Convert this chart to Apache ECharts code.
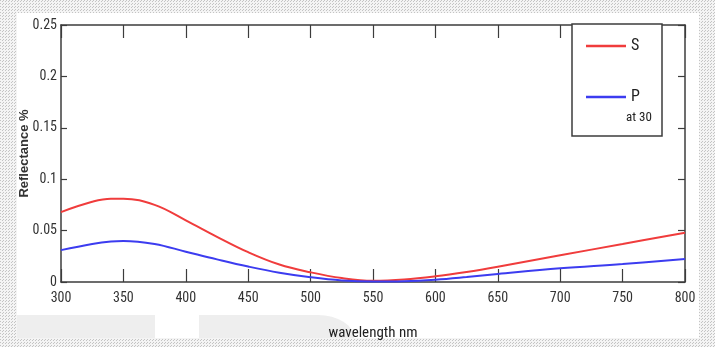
<!DOCTYPE html>
<html>
<head>
<meta charset="utf-8">
<script src="https://cdn.jsdelivr.net/npm/echarts@6/dist/echarts.min.js"></script>
<style>
  html, body { margin: 0; padding: 0; background: #ffffff; }
  #chart { width: 715px; height: 347px; }
</style>
</head>
<body>
<div id="chart"></div>
<script>
// Wavelengths sampled (nm)
const wavelengths = [300, 325, 340, 350, 375, 400, 425, 450, 475, 500, 525, 550, 575, 600, 625, 650, 700, 750, 800];
// Reflectance for S polarisation
const reflectanceS = [0.068, 0.078, 0.081, 0.081, 0.075, 0.060, 0.044, 0.029, 0.017, 0.0094, 0.0038, 0.0012, 0.0024, 0.0055, 0.0098, 0.0149, 0.026, 0.037, 0.048];
// Reflectance for P polarisation
const reflectanceP = [0.031, 0.037, 0.0395, 0.040, 0.037, 0.0295, 0.022, 0.015, 0.009, 0.0046, 0.0015, 0.0004, 0.0007, 0.0022, 0.0048, 0.0078, 0.0133, 0.0175, 0.0224];
const seriesNames = ['S', 'P'];
const xTicks = { min: 300, max: 800, interval: 50 };
const yTicks = { min: 0, max: 0.25, interval: 0.05 };

const pairs = (ys) => wavelengths.map((w, i) => [w, ys[i]]);

// small dotted tile used for the outer frame
const tile = document.createElement('canvas');
tile.width = 3; tile.height = 3;
const tctx = tile.getContext('2d');
tctx.fillStyle = '#f4f4f4'; tctx.fillRect(0, 0, 3, 3);
tctx.fillStyle = '#c4c4c4'; tctx.fillRect(0, 0, 1, 1); tctx.fillRect(2, 1, 1, 1);
const dots = { image: tile, repeat: 'repeat' };

const FONT = '"Roboto Condensed", "Open Sans Condensed", "Liberation Sans", sans-serif';
const AX = '#3c3c3c';

// rounded right end of the pale lower band
const bandPoints = [[199, 315], [318, 315]];
for (let k = 1; k <= 8; k++) {
  const t = k / 8;
  bandPoints.push([318 + 36 * Math.sin(t * Math.PI / 2), 315 + 23 * (1 - Math.cos(t * Math.PI / 2))]);
}
bandPoints.push([199, 338]);

const chart = echarts.init(document.getElementById('chart'), null, { renderer: 'canvas' });

chart.setOption({
  backgroundColor: '#ffffff',
  animation: false,
  grid: { left: 61, top: 25, right: 30, bottom: 65, containLabel: false, outerBoundsMode: 'none' },
  xAxis: [{
    type: 'value', min: xTicks.min, max: xTicks.max, interval: xTicks.interval,
    name: 'wavelength nm', nameLocation: 'middle', nameGap: 44, nameMoveOverlap: false,
    nameTextStyle: { fontFamily: FONT, fontSize: 15, color: '#222' },
    axisLine: { show: true, onZero: false, lineStyle: { color: AX, width: 1.5 } },
    axisTick: { show: true, inside: true, length: 13, lineStyle: { color: AX, width: 1.2 } },
    axisLabel: { fontFamily: FONT, fontSize: 14, color: '#333', margin: 9 },
    splitLine: { show: false }
  }, {
    type: 'value', position: 'top', min: xTicks.min, max: xTicks.max, interval: xTicks.interval,
    axisLine: { show: true, onZero: false, lineStyle: { color: AX, width: 1.5 } },
    axisTick: { show: true, inside: true, length: 13, lineStyle: { color: AX, width: 1.2 } },
    axisLabel: { show: false }, splitLine: { show: false }
  }],
  yAxis: [{
    type: 'value', min: yTicks.min, max: yTicks.max, interval: yTicks.interval,
    name: 'Reflectance %', nameLocation: 'middle', nameGap: 30, nameRotate: 90, nameMoveOverlap: false,
    nameTextStyle: { fontFamily: '"Liberation Sans", Arial, sans-serif', fontWeight: 'bold', fontSize: 13, color: '#333' },
    axisLine: { show: true, onZero: false, lineStyle: { color: AX, width: 1.5 } },
    axisTick: { show: true, inside: true, length: 6, lineStyle: { color: AX, width: 1.2 } },
    axisLabel: { fontFamily: FONT, fontSize: 14, color: '#333', margin: 4 },
    splitLine: { show: false }
  }, {
    type: 'value', position: 'right', min: yTicks.min, max: yTicks.max, interval: yTicks.interval,
    axisLine: { show: true, onZero: false, lineStyle: { color: AX, width: 1.5 } },
    axisTick: { show: true, inside: true, length: 7, lineStyle: { color: AX, width: 1.2 } },
    axisLabel: { show: false }, splitLine: { show: false }
  }],
  legend: {
    orient: 'vertical', left: 581, top: 33, z: 10,
    icon: 'rect', itemWidth: 40, itemHeight: 2.5, itemGap: 35,
    textStyle: { fontFamily: FONT, fontSize: 16, color: '#222' },
    data: seriesNames
  },
  graphic: [
    // outer dotted frame
    { type: 'rect', z: 0, shape: { x: 0, y: 0, width: 715, height: 13 }, style: { fill: dots } },
    { type: 'rect', z: 0, shape: { x: 0, y: 0, width: 17, height: 347 }, style: { fill: dots } },
    { type: 'rect', z: 0, shape: { x: 699, y: 0, width: 16, height: 347 }, style: { fill: dots } },
    { type: 'rect', z: 0, shape: { x: 0, y: 338, width: 715, height: 9 }, style: { fill: dots } },
    // pale band behind the lower margin
    { type: 'rect', z: 0, shape: { x: 17, y: 315, width: 138, height: 23 }, style: { fill: '#eeeeee' } },
    { type: 'polygon', z: 0, shape: { points: bandPoints }, style: { fill: '#eeeeee' } },
    // legend frame and note
    { type: 'rect', z: 5, shape: { x: 572, y: 24, width: 90, height: 112 }, style: { fill: '#ffffff', stroke: AX, lineWidth: 1.5 } },
    { type: 'text', z: 11, left: 626, top: 111, style: { text: 'at 30', fontFamily: FONT, fontSize: 13, fill: '#222' } }
  ],
  series: [{
    name: seriesNames[0], type: 'line', smooth: 0.4, showSymbol: false, z: 3,
    lineStyle: { color: '#f03c3c', width: 2 }, itemStyle: { color: '#f03c3c' },
    data: pairs(reflectanceS)
  }, {
    name: seriesNames[1], type: 'line', smooth: 0.4, showSymbol: false, z: 3,
    lineStyle: { color: '#3c3cf0', width: 2 }, itemStyle: { color: '#3c3cf0' },
    data: pairs(reflectanceP)
  }]
});
</script>
</body>
</html>
